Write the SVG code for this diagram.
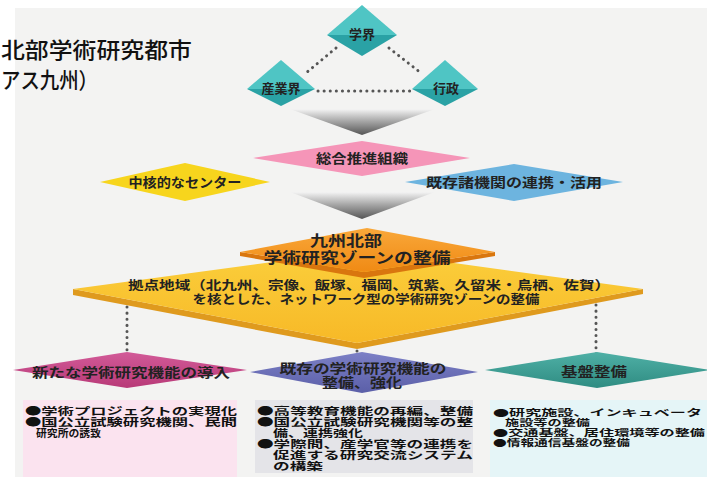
<svg xmlns="http://www.w3.org/2000/svg" width="707" height="477" viewBox="0 0 707 477">
<defs>
<linearGradient id="gArrow" x1="0" y1="0" x2="0" y2="1">
<stop offset="0" stop-color="#f4f4f4"/>
<stop offset="0.45" stop-color="#a9a9a9"/>
<stop offset="1" stop-color="#555"/>
</linearGradient>
<linearGradient id="gOrange" x1="0" y1="0" x2="0" y2="1">
<stop offset="0" stop-color="#f9a83a"/>
<stop offset="1" stop-color="#f08a14"/>
</linearGradient>
<linearGradient id="gBig" x1="0" y1="0" x2="0" y2="1">
<stop offset="0" stop-color="#fbcf3c"/>
<stop offset="1" stop-color="#f7b927"/>
</linearGradient>
<linearGradient id="gMag" x1="0" y1="0" x2="0" y2="1">
<stop offset="0" stop-color="#d25a98"/>
<stop offset="1" stop-color="#b83a78"/>
</linearGradient>
<linearGradient id="gPur" x1="0" y1="0" x2="0" y2="1">
<stop offset="0" stop-color="#7c80c6"/>
<stop offset="1" stop-color="#5b5fa8"/>
</linearGradient>
<linearGradient id="gTeal" x1="0" y1="0" x2="0" y2="1">
<stop offset="0" stop-color="#4fb0a6"/>
<stop offset="1" stop-color="#2f8c82"/>
</linearGradient>
</defs>
<style>
.lbl{font-family:"Noto Sans CJK JP","Noto Sans CJK SC",sans-serif;font-weight:bold;fill:#222;text-anchor:middle}
.box{font-family:"Noto Sans CJK JP","Noto Sans CJK SC",sans-serif;font-weight:bold;fill:#111;font-size:10.5px}
.box3{font-family:"Noto Sans CJK JP","Noto Sans CJK SC",sans-serif;font-weight:bold;fill:#111;font-size:9px}
.title{font-family:"Noto Sans CJK JP","Noto Sans CJK SC",sans-serif;font-weight:500;fill:#111;font-size:22px}
.dot{fill:none;stroke:#555;stroke-width:3;stroke-linecap:round;stroke-dasharray:0.1 6}
.pyrT{fill:#4fc5c4}
.pyrB{fill:#2aa2a5}
</style>
<rect x="0" y="0" width="707" height="477" fill="#ffffff"/>
<rect x="15" y="8" width="692" height="469" fill="#f3f3f2"/>
<g id="title">
<text class="title" x="1" y="58" textLength="191" lengthAdjust="spacingAndGlyphs">北部学術研究都市</text>
<text class="title" x="1" y="88" textLength="97" lengthAdjust="spacingAndGlyphs">アス九州）</text>
</g>
<g id="connectors">
<line class="dot" x1="336" y1="48" x2="306" y2="73"/>
<line class="dot" x1="389" y1="48" x2="421" y2="73"/>
<line class="dot" x1="318" y1="91" x2="410" y2="91"/>
<line class="dot" x1="127" y1="307" x2="127" y2="366"/>
<line class="dot" x1="357" y1="351" x2="357" y2="372"/>
<line class="dot" x1="596" y1="305" x2="596" y2="366"/>
<polygon points="290,109 435,109 362,135" fill="url(#gArrow)"/>
<polygon points="290,192 435,192 362,219" fill="url(#gArrow)"/>
</g>
<g id="gakkai">
<polygon class="pyrT" points="362,5 327,35 397,35"/>
<polygon class="pyrB" points="327,35 362,56 397,35"/>
<text class="lbl" x="362" y="39" font-size="13">学界</text>
</g>
<g id="sangyokai">
<polygon class="pyrT" points="281,60 247,89 315,89"/>
<polygon class="pyrB" points="247,89 281,106 315,89"/>
<text class="lbl" x="281" y="93" font-size="13">産業界</text>
</g>
<g id="gyosei">
<polygon class="pyrT" points="445,60 412,89 478,89"/>
<polygon class="pyrB" points="412,89 445,106 478,89"/>
<text class="lbl" x="446" y="93" font-size="13">行政</text>
</g>
<g id="sogo">
<polygon points="253,158 362,141 470,158 362,176" fill="#f595b8"/>
<text class="lbl" x="362" y="163" font-size="13" textLength="92" lengthAdjust="spacingAndGlyphs">総合推進組織</text>
</g>
<g id="chukaku">
<polygon points="100,182 185,163 270,182 185,201" fill="#f7d51d"/>
<text class="lbl" x="185" y="187" font-size="13" textLength="113" lengthAdjust="spacingAndGlyphs">中核的なセンター</text>
</g>
<g id="kison">
<polygon points="405,182 514,164 623,182 514,201" fill="#6db4df"/>
<text class="lbl" x="514" y="187" font-size="13" textLength="176" lengthAdjust="spacingAndGlyphs">既存諸機関の連携・活用</text>
</g>
<g id="kyoten">
<polygon points="73,289 357,343 643,289 643,294 357,349 73,295" fill="#df9a1e"/>
<polygon points="73,289 360,250 643,289 357,343" fill="url(#gBig)"/>
<text class="lbl" x="369" y="290" font-size="12.5" textLength="482" lengthAdjust="spacingAndGlyphs">拠点地域（北九州、宗像、飯塚、福岡、筑紫、久留米・鳥栖、佐賀）</text>
<text class="lbl" x="366" y="304" font-size="12.5" textLength="347" lengthAdjust="spacingAndGlyphs">を核とした、ネットワーク型の学術研究ゾーンの整備</text>
</g>
<g id="kyushu">
<polygon points="240,252 364,272 495,252 495,256 364,278 240,256" fill="#d9760e"/>
<polygon points="240,252 367,228 495,252 364,272" fill="url(#gOrange)"/>
<text class="lbl" x="346" y="246" font-size="15" textLength="72" lengthAdjust="spacingAndGlyphs">九州北部</text>
<text class="lbl" x="357" y="263" font-size="15" textLength="187" lengthAdjust="spacingAndGlyphs">学術研究ゾーンの整備</text>
</g>
<g id="aratana">
<polygon points="13,370 127,352 247,370 127,388" fill="url(#gMag)"/>
<text class="lbl" x="131" y="377" font-size="13" textLength="198" lengthAdjust="spacingAndGlyphs">新たな学術研究機能の導入</text>
</g>
<g id="kizon">
<polygon points="250,372 362,352 478,372 362,393" fill="url(#gPur)"/>
<text class="lbl" x="363" y="373" font-size="13" textLength="167" lengthAdjust="spacingAndGlyphs">既存の学術研究機能の</text>
<text class="lbl" x="362" y="387" font-size="13" textLength="80" lengthAdjust="spacingAndGlyphs">整備、強化</text>
</g>
<g id="kiban">
<polygon points="485,370 597,352 710,370 597,388" fill="url(#gTeal)"/>
<text class="lbl" x="594" y="376" font-size="13" textLength="66" lengthAdjust="spacingAndGlyphs">基盤整備</text>
</g>
<g id="box1">
<rect x="23" y="400" width="214" height="77" fill="#fbe3ef"/>
<text class="box" x="25" y="415" textLength="212" lengthAdjust="spacingAndGlyphs">●学術プロジェクトの実現化</text>
<text class="box" x="25" y="426" textLength="212" lengthAdjust="spacingAndGlyphs">●国公立試験研究機関、民間</text>
<text class="box" x="36" y="437" textLength="65" lengthAdjust="spacingAndGlyphs">研究所の誘致</text>
</g>
<g id="box2">
<rect x="255" y="400" width="218" height="73" fill="#e4e4e8"/>
<text class="box" x="257" y="415" textLength="216" lengthAdjust="spacingAndGlyphs">●高等教育機能の再編、整備</text>
<text class="box" x="257" y="426" textLength="216" lengthAdjust="spacingAndGlyphs">●国公立試験研究機関等の整</text>
<text class="box" x="273" y="437" textLength="90" lengthAdjust="spacingAndGlyphs">備、連携強化</text>
<text class="box" x="257" y="448" textLength="216" lengthAdjust="spacingAndGlyphs">●学際間、産学官等の連携を</text>
<text class="box" x="273" y="459" textLength="200" lengthAdjust="spacingAndGlyphs">促進する研究交流システム</text>
<text class="box" x="273" y="470" textLength="50" lengthAdjust="spacingAndGlyphs">の構築</text>
</g>
<g id="box3">
<rect x="490" y="400" width="217" height="77" fill="#e5f5f7"/>
<text class="box3" x="493" y="416" textLength="209" lengthAdjust="spacingAndGlyphs">●研究施設、インキュベータ</text>
<text class="box3" x="505" y="426" textLength="85" lengthAdjust="spacingAndGlyphs">施設等の整備</text>
<text class="box3" x="493" y="436" textLength="212" lengthAdjust="spacingAndGlyphs">●交通基盤、居住環境等の整備</text>
<text class="box3" x="493" y="446" textLength="137" lengthAdjust="spacingAndGlyphs">●情報通信基盤の整備</text>
</g>
</svg>
